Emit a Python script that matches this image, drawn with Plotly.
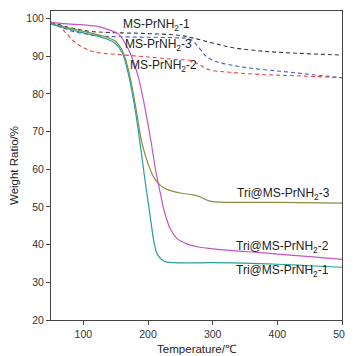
import plotly.graph_objects as go

# Solid curves (Tri@MS-PrNH2-n)
tri1_x = [50, 75, 100, 125, 140, 150, 160, 170, 180, 190, 195, 200, 205, 210, 215, 225, 240, 300, 350, 400, 450, 500]
tri1_y = [98.5, 97.3, 96.2, 95.2, 94.3, 93.3, 91.0, 85.0, 76.0, 64.0, 57.5, 51.5, 45.5, 40.0, 37.2, 35.6, 35.2, 35.2, 35.1, 34.8, 34.4, 34.0]

tri3_x = [50, 75, 100, 125, 140, 150, 160, 170, 180, 190, 200, 210, 220, 230, 250, 270, 280, 290, 300, 350, 400, 500]
tri3_y = [98.6, 97.6, 96.6, 95.6, 94.8, 93.9, 91.6, 86.2, 77.5, 67.5, 61.5, 57.6, 55.6, 54.6, 53.7, 53.2, 52.7, 51.9, 51.4, 51.2, 51.2, 51.0]

tri2_x = [50, 75, 100, 125, 140, 155, 165, 175, 185, 195, 205, 212, 218, 225, 235, 245, 260, 280, 300, 340, 380, 420, 460, 500]
tri2_y = [99.0, 98.6, 98.3, 97.8, 97.0, 95.8, 93.3, 89.8, 84.5, 76.5, 67.0, 59.5, 54.5, 49.0, 44.0, 41.6, 40.2, 39.3, 38.9, 38.3, 37.8, 37.2, 36.7, 36.1]

# Dashed curves (MS-PrNH2-n)
ms1_x = [50, 70, 90, 110, 140, 200, 250, 270, 300, 330, 380, 430, 500]
ms1_y = [99.0, 98.0, 97.2, 96.6, 96.3, 96.0, 95.5, 94.8, 93.5, 92.3, 91.3, 90.8, 90.3]

ms3_x = [50, 65, 80, 100, 125, 175, 240, 265, 280, 290, 305, 330, 355, 405, 455, 500]
ms3_y = [99.0, 97.8, 96.8, 96.0, 95.4, 95.1, 94.9, 94.5, 92.0, 90.0, 88.6, 87.6, 86.9, 86.0, 85.1, 84.3]

ms2_x = [50, 62, 74, 85, 95, 110, 125, 150, 200, 245, 265, 280, 295, 330, 380, 430, 500]
ms2_y = [99.0, 98.0, 96.0, 94.0, 92.8, 91.5, 90.9, 90.5, 89.8, 89.1, 88.9, 87.7, 86.4, 85.7, 85.1, 84.8, 84.3]

x_ticks = [100, 200, 300, 400, 500]
y_ticks = [20, 30, 40, 50, 60, 70, 80, 90, 100]

labels = ["MS-PrNH<sub>2</sub>-1", "MS-PrNH<sub>2</sub>-3", "MS-PrNH<sub>2</sub>-2",
          "Tri@MS-PrNH<sub>2</sub>-3", "Tri@MS-PrNH<sub>2</sub>-2", "Tri@MS-PrNH<sub>2</sub>-1"]
label_x = [158.5, 161.5, 169, 334, 332.5, 332.5]
label_y = [98.3, 93.1, 87.4, 53.4, 39.3, 33.0]

fig = go.Figure()
dash = "4px,3px"
fig.add_trace(go.Scatter(x=ms1_x, y=ms1_y, mode="lines", line=dict(color="#3a3a3a", width=1.1, dash=dash, shape="spline")))
fig.add_trace(go.Scatter(x=ms3_x, y=ms3_y, mode="lines", line=dict(color="#4a5cc4", width=1.1, dash=dash, shape="spline")))
fig.add_trace(go.Scatter(x=ms2_x, y=ms2_y, mode="lines", line=dict(color="#ee4444", width=1.1, dash=dash, shape="spline")))
fig.add_trace(go.Scatter(x=tri3_x, y=tri3_y, mode="lines", line=dict(color="#8a8c3e", width=1.2, shape="spline")))
fig.add_trace(go.Scatter(x=tri2_x, y=tri2_y, mode="lines", line=dict(color="#c456c4", width=1.2, shape="spline")))
fig.add_trace(go.Scatter(x=tri1_x, y=tri1_y, mode="lines", line=dict(color="#2a9e9e", width=1.2, shape="spline")))

for t, lx, ly in zip(labels, label_x, label_y):
    fig.add_annotation(x=lx, y=ly, text=t, showarrow=False, xref="x", yref="y",
                       xanchor="left", yanchor="middle",
                       font=dict(family="Liberation Sans, Arial", size=12, color="#222"))

axis_common = dict(showline=True, linecolor="#444", linewidth=1, mirror=True,
                   ticks="outside", ticklen=4, tickcolor="#444", tickwidth=1,
                   showgrid=False, zeroline=False, ticklabeloverflow="allow",
                   tickfont=dict(family="Liberation Sans, Arial", size=10.5, color="#333"))

# The page body keeps the browser's default 8px margin, so the figure is sized
# and offset to place the plot area where the reference has it.
fig.update_layout(
    width=345, height=348,
    margin=dict(l=43, r=6, t=2, b=32),
    paper_bgcolor="white", plot_bgcolor="white",
    showlegend=False,
    xaxis=dict(range=[50, 500], tickvals=x_ticks,
               title=dict(text="Temperature/℃", standoff=6,
                          font=dict(family="Liberation Sans, Arial", size=11.5, color="#222")),
               **axis_common),
    yaxis=dict(range=[20, 102], tickvals=y_ticks,
               title=dict(text="Weight Ratio/%", standoff=5,
                          font=dict(family="Liberation Sans, Arial", size=11.5, color="#222")),
               **axis_common),
)

fig.write_html("out.html")
